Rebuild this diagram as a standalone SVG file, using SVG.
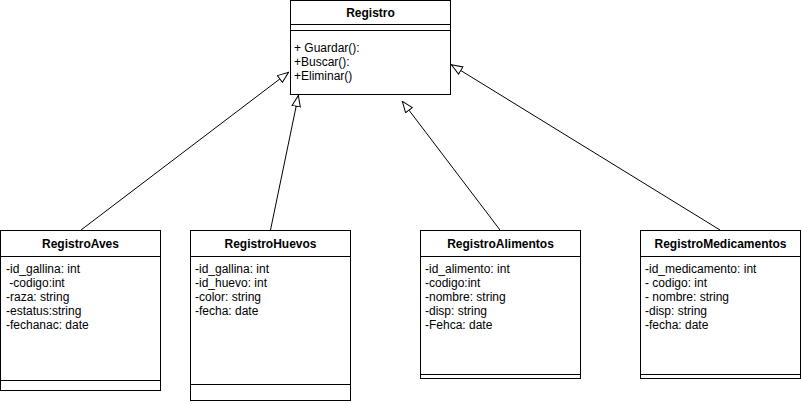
<svg xmlns="http://www.w3.org/2000/svg" width="801" height="404" viewBox="0 0 801 404">
<style>
.box{fill:#ffffff;stroke:#000000;stroke-width:1}
.sep{stroke:#000000;stroke-width:1;fill:none}
.t{font-family:"Liberation Sans",Arial,sans-serif;font-size:12px;fill:#000000;white-space:pre}
.b{font-weight:bold;text-anchor:middle}
.c{stroke:#000000;stroke-width:1;fill:none;marker-end:url(#tri)}
</style>
<defs>
<marker id="tri" viewBox="0 0 12 10" refX="12" refY="5" markerWidth="12" markerHeight="10" markerUnits="userSpaceOnUse" orient="auto">
<path d="M0.5,0.8 L11.5,5 L0.5,9.2 Z" fill="#ffffff" stroke="#000000" stroke-width="1"/>
</marker>
</defs>
<rect width="801" height="404" fill="#ffffff"/>
<g id="connectors">
<line class="c" x1="81" y1="230" x2="289" y2="72"/>
<line class="c" x1="270.5" y1="230" x2="298.5" y2="95"/>
<line class="c" x1="500" y1="230" x2="402" y2="101"/>
<line class="c" x1="720" y1="230" x2="451" y2="64.5"/>
</g>
<g id="Registro">
<rect class="box" x="290.5" y="0.5" width="160" height="94"/>
<line class="sep" x1="290.5" y1="24.5" x2="450.5" y2="24.5"/>
<line class="sep" x1="290.5" y1="30.5" x2="450.5" y2="30.5"/>
<text class="t b" x="370.5" y="17">Registro</text>
<text class="t" x="294" y="52">+ Guardar():</text>
<text class="t" x="294" y="66">+Buscar():</text>
<text class="t" x="294" y="80">+Eliminar()</text>
</g>
<g id="RegistroAves">
<rect class="box" x="0.5" y="230.5" width="160" height="160"/>
<line class="sep" x1="0.5" y1="256.5" x2="160.5" y2="256.5"/>
<line class="sep" x1="0.5" y1="380.5" x2="160.5" y2="380.5"/>
<text class="t b" x="80.5" y="248">RegistroAves</text>
<text class="t" x="6" y="273">-id_gallina: int</text>
<text class="t" x="6" y="287"> -codigo:int</text>
<text class="t" x="6" y="301">-raza: string</text>
<text class="t" x="6" y="315">-estatus:string</text>
<text class="t" x="6" y="329">-fechanac: date</text>
</g>
<g id="RegistroHuevos">
<rect class="box" x="190.5" y="230.5" width="160" height="170"/>
<line class="sep" x1="190.5" y1="256.5" x2="350.5" y2="256.5"/>
<line class="sep" x1="190.5" y1="384.5" x2="350.5" y2="384.5"/>
<text class="t b" x="270.5" y="248">RegistroHuevos</text>
<text class="t" x="195" y="273">-id_gallina: int</text>
<text class="t" x="195" y="287">-id_huevo: int</text>
<text class="t" x="195" y="301">-color: string</text>
<text class="t" x="195" y="315">-fecha: date</text>
</g>
<g id="RegistroAlimentos">
<rect class="box" x="420.5" y="230.5" width="160" height="148"/>
<line class="sep" x1="420.5" y1="256.5" x2="580.5" y2="256.5"/>
<line class="sep" x1="420.5" y1="374.5" x2="580.5" y2="374.5"/>
<text class="t b" x="500.5" y="248">RegistroAlimentos</text>
<text class="t" x="425" y="273">-id_alimento: int</text>
<text class="t" x="425" y="287">-codigo:int</text>
<text class="t" x="425" y="301">-nombre: string</text>
<text class="t" x="425" y="315">-disp: string</text>
<text class="t" x="425" y="329">-Fehca: date</text>
</g>
<g id="RegistroMedicamentos">
<rect class="box" x="640.5" y="230.5" width="160" height="148"/>
<line class="sep" x1="640.5" y1="256.5" x2="800.5" y2="256.5"/>
<line class="sep" x1="640.5" y1="374.5" x2="800.5" y2="374.5"/>
<text class="t b" x="720.5" y="248">RegistroMedicamentos</text>
<text class="t" x="645" y="273">-id_medicamento: int</text>
<text class="t" x="645" y="287">- codigo: int</text>
<text class="t" x="645" y="301">- nombre: string</text>
<text class="t" x="645" y="315">-disp: string</text>
<text class="t" x="645" y="329">-fecha: date</text>
</g>
</svg>
